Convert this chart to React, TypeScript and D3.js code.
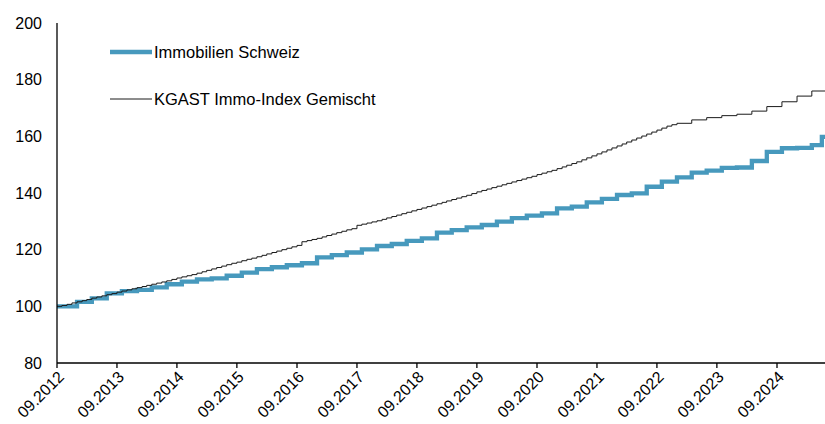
import React from "react";
import * as d3 from "d3";

// Y axis ticks
const yTicks = [80, 100, 120, 140, 160, 180, 200];
// X axis tick years (September of each year)
const tickYears = [2012, 2013, 2014, 2015, 2016, 2017, 2018, 2019, 2020, 2021, 2022, 2023, 2024];

// Immobilien Schweiz: first value from 09.2012, then quarterly changes from 01.2013
const blueStart = 100.0;
const blueQuarterly = [
  101.6, 102.8, 104.6, 105.4, 105.8, 106.7, 107.8, 108.7, 109.5, 109.9, 110.8, 111.9,
  113.1, 113.8, 114.5, 115.2, 117.3, 118.1, 119.0, 120.1, 121.3, 122.0, 123.1, 124.0,
  126.0, 126.9, 127.9, 128.7, 129.9, 131.1, 132.0, 132.8, 134.6, 135.2, 136.7, 137.9,
  139.3, 139.9, 142.2, 144.0, 145.5, 147.2, 147.9, 148.9, 149.0, 151.3, 154.5, 155.8,
  155.9, 156.9,
];
const blueLast = { date: "2025-06-01", value: 159.8 };

// KGAST Immo-Index Gemischt: monthly 09.2012 .. 01.2023
const blackMonthly = [
  100.0, 100.3, 100.7, 101.2, 101.6, 102.0, 102.4, 102.9, 103.3, 103.7, 104.1, 104.5,
  105.0, 105.4, 105.8, 106.2, 106.6, 107.0, 107.4, 107.8, 108.2, 108.6, 109.0, 109.5,
  110.0, 110.4, 110.8, 111.2, 111.7, 112.2, 112.7, 113.2, 113.7, 114.2, 114.7, 115.2,
  115.6, 116.1, 116.6, 117.0, 117.5, 118.0, 118.5, 119.0, 119.5, 120.0, 120.5, 121.0,
  121.5, 122.8, 123.2, 123.6, 124.0, 124.5, 125.0, 125.5, 126.0, 126.5, 127.0, 127.4,
  128.6, 129.0, 129.4, 129.8, 130.2, 130.7, 131.2, 131.7, 132.2, 132.7, 133.2, 133.7,
  134.2, 134.7, 135.2, 135.7, 136.2, 136.7, 137.2, 137.7, 138.2, 138.7, 139.2, 139.8,
  140.4, 140.9, 141.4, 141.9, 142.4, 142.9, 143.4, 143.9, 144.4, 144.9, 145.4, 145.9,
  146.5, 147.0, 147.5, 148.0, 148.6, 149.2, 149.8, 150.4, 151.0, 151.7, 152.4, 153.1,
  153.8, 154.5, 155.2, 155.9, 156.6, 157.3, 158.0, 158.7, 159.4, 160.1, 160.8, 161.5,
  162.2, 162.9, 163.6, 164.1, 164.6,
];
// then quarterly from 04.2023
const blackQuarterly = [165.8, 166.6, 167.3, 167.8, 168.9, 170.5, 172.2, 174.2, 176.0];

const seriesNames = ["Immobilien Schweiz", "KGAST Immo-Index Gemischt"];

const W = 825;
const H = 424;
const FONT = "Liberation Sans, Arial, sans-serif";
const BLUE = "#4799bd";

type Pt = { date: Date; value: number };

export default function App() {
  const x = d3
    .scaleTime()
    .domain([new Date(2012, 8, 1), new Date(2024, 8, 1)])
    .range([57, 777]);
  const endDate = x.invert(W);
  const y = d3.scaleLinear().domain([80, 200]).range([363, 23]);

  const bluePts: Pt[] = [{ date: new Date(2012, 8, 1), value: blueStart }];
  blueQuarterly.forEach((v, i) => {
    bluePts.push({ date: d3.timeMonth.offset(new Date(2013, 0, 1), 3 * i), value: v });
  });
  bluePts.push({ date: new Date(blueLast.date + "T00:00:00"), value: blueLast.value });
  bluePts.push({ date: endDate, value: blueLast.value });

  const blackPts: Pt[] = [];
  blackMonthly.forEach((v, i) => {
    blackPts.push({ date: d3.timeMonth.offset(new Date(2012, 8, 1), i), value: v });
  });
  blackQuarterly.forEach((v, i) => {
    blackPts.push({ date: d3.timeMonth.offset(new Date(2023, 3, 1), 3 * i), value: v });
  });
  blackPts.push({ date: endDate, value: blackQuarterly[blackQuarterly.length - 1] });

  const line = d3
    .line<Pt>()
    .x((d) => x(d.date))
    .y((d) => y(d.value))
    .curve(d3.curveStepAfter);

  const xTicks = tickYears.map((yr) => new Date(yr, 8, 1));

  return (
    <svg
      width={W}
      height={H}
      style={{ position: "absolute", left: 0, top: 0, background: "#fff" }}
      fontFamily={FONT}
    >
      {/* lines */}
      <path d={line(bluePts) || ""} fill="none" stroke={BLUE} strokeWidth={4.3} strokeLinejoin="miter" />
      <path d={line(blackPts) || ""} fill="none" stroke="#1a1a1a" strokeWidth={1} />

      {/* y axis */}
      <line x1={57} x2={57} y1={y(200)} y2={y(80)} stroke="#000" strokeWidth={1.3} />
      {yTicks.map((t) => (
        <text key={t} x={42} y={y(t)} dy="0.35em" textAnchor="end" fontSize={16} fill="#000">
          {t}
        </text>
      ))}

      {/* x axis */}
      <line x1={57} x2={W} y1={363} y2={363} stroke="#000" strokeWidth={1.3} />
      {xTicks.map((d, i) => {
        const px = x(d);
        return (
          <g key={i}>
            <line x1={px} x2={px} y1={363} y2={368} stroke="#000" strokeWidth={1.3} />
            <text
              transform={`translate(${px + 4},${374}) rotate(-45)`}
              textAnchor="end"
              dy="0.35em"
              fontSize={16}
              fill="#000"
            >
              {`09.${tickYears[i]}`}
            </text>
          </g>
        );
      })}

      {/* legend */}
      <line x1={110} x2={152} y1={52} y2={52} stroke={BLUE} strokeWidth={4.3} />
      <text x={154} y={52} dy="0.35em" fontSize={16.5} fill="#000">
        {seriesNames[0]}
      </text>
      <line x1={110} x2={152} y1={99} y2={99} stroke="#1a1a1a" strokeWidth={1} />
      <text x={154} y={99} dy="0.35em" fontSize={16.5} fill="#000">
        {seriesNames[1]}
      </text>
    </svg>
  );
}
